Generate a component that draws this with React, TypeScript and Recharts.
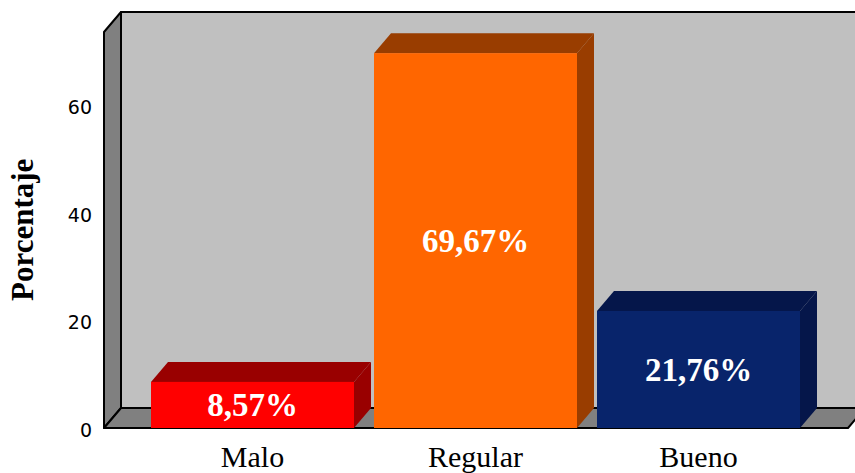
import { Bar, BarChart, Cell, LabelList, XAxis, YAxis, usePlotArea } from "recharts";

const categories = ["Malo", "Regular", "Bueno"];
const percentages = [8.57, 69.67, 21.76];
const percentLabels = ["8,57%", "69,67%", "21,76%"];
const yTicks = [0, 20, 40, 60];
const frontColors = ["#FF0000", "#FF6600", "#08246B"];
const shadeColors = ["#990000", "#993D00", "#05164A"];

const rows = categories.map((name, i) => ({
  name,
  value: percentages[i],
  label: percentLabels[i],
  shade: shadeColors[i]
}));

// oblique offset of the fake 3D extrusion
const DEPTH_X = 17;
const DEPTH_Y = 20;
const serif = "'Liberation Serif', serif";

function Walls() {
  const plot = usePlotArea();
  if (!plot) return null;
  const left = plot.x;
  const top = plot.y;
  const right = plot.x + plot.width;
  const bottom = plot.y + plot.height;
  const points = (list: number[][]) => list.map((p) => p.join(",")).join(" ");
  return (
    <g stroke="#000" strokeWidth={2} strokeLinejoin="round">
      <polygon
        fill="#C0C0C0"
        points={points([
          [left + DEPTH_X, top - DEPTH_Y],
          [right + DEPTH_X, top - DEPTH_Y],
          [right + DEPTH_X, bottom - DEPTH_Y],
          [left + DEPTH_X, bottom - DEPTH_Y]
        ])}
      />
      <polygon
        fill="#808080"
        points={points([
          [left, top],
          [left + DEPTH_X, top - DEPTH_Y],
          [left + DEPTH_X, bottom - DEPTH_Y],
          [left, bottom]
        ])}
      />
      <polygon
        fill="#808080"
        points={points([
          [left, bottom],
          [left + DEPTH_X, bottom - DEPTH_Y],
          [right + DEPTH_X, bottom - DEPTH_Y],
          [right, bottom]
        ])}
      />
    </g>
  );
}

function Bar3D(props: any) {
  const { x, y, width, height, fill, payload } = props;
  const shade = payload.shade;
  return (
    <g>
      <polygon
        fill={shade}
        points={`${x},${y} ${x + DEPTH_X},${y - DEPTH_Y} ${x + width + DEPTH_X},${y - DEPTH_Y} ${x + width},${y}`}
      />
      <polygon
        fill={shade}
        points={`${x + width},${y} ${x + width + DEPTH_X},${y - DEPTH_Y} ${x + width + DEPTH_X},${y + height - DEPTH_Y} ${x + width},${y + height}`}
      />
      <rect x={x} y={y} width={width} height={height} fill={fill} />
    </g>
  );
}

export default function App() {
  return (
    <div style={{ position: "absolute", left: 0, top: 0, width: 855, height: 473 }}>
      <BarChart
        width={855}
        height={473}
        data={rows}
        margin={{ left: 0, right: 7, top: 32, bottom: 0 }}
        barCategoryGap={10}
      >
        <Walls />
        <XAxis
          dataKey="name"
          height={45}
          padding={{ left: 37, right: 38 }}
          axisLine={false}
          tickLine={false}
          tickMargin={12}
          tick={{ fill: "#000", fontSize: 30, fontFamily: serif }}
          interval={0}
        />
        <YAxis
          width={104}
          domain={[0, 73.6]}
          ticks={yTicks}
          axisLine={false}
          tickLine={false}
          tickMargin={6}
          tick={{ fill: "#000", fontSize: 19, fontFamily: "'DejaVu Sans', sans-serif", dy: 2 }}
          label={{
            value: "Porcentaje",
            angle: -90,
            position: "insideLeft",
            dx: 17,
            dy: 71,
            fill: "#000",
            fontSize: 31,
            fontWeight: 700,
            fontFamily: serif
          }}
        />
        <Bar dataKey="value" shape={<Bar3D />} isAnimationActive={false}>
          {rows.map((row, i) => (
            <Cell key={row.name} fill={frontColors[i]} />
          ))}
          <LabelList
            dataKey="label"
            position="center"
            fill="#fff"
            fontSize={33}
            fontWeight={700}
            fontFamily={serif}
            dy={-0.5}
          />
        </Bar>
      </BarChart>
    </div>
  );
}
